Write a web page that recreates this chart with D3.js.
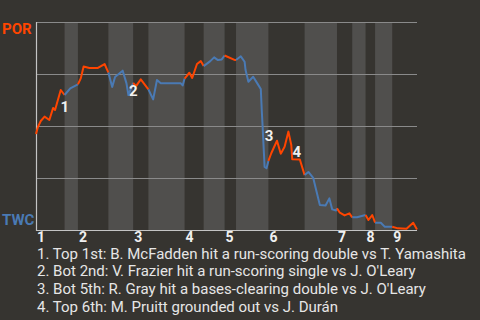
<!DOCTYPE html>
<html>
<head>
<meta charset="utf-8">
<script src="https://cdn.jsdelivr.net/npm/d3@7"></script>
<style>
  html, body { margin: 0; padding: 0; background: #363430; }
  svg { display: block; }
</style>
</head>
<body>
<svg id="chart" width="480" height="320"></svg>
<script>
// ---- data ----
const awayTeam = "POR";
const homeTeam = "TWC";
// half-inning boundaries in play units (top 1st, bot 1st, ..., top 9th)
const halfInningBounds = [0, 15, 22, 38, 51, 59, 78, 88, 99, 105, 122, 141, 158, 166, 173, 178, 187, 200];
const inningLabels = ["1", "2", "3", "4", "5", "6", "7", "8", "9"];
const gridValues = [0.25, 0.5, 0.75, 1];
// play progression and POR win probability
const playX = [0, 1, 2.5, 4.5, 7, 9, 10, 11, 13, 15, 18, 22, 23.5, 25, 28, 32.5, 36, 38, 40, 41.5,
  45.5, 47.5, 48.5, 51, 52.5, 55, 58, 59, 61.5, 63.5, 65.5, 76, 77, 78, 80.5, 82, 84.5, 86.5, 88,
  91.5, 93.5, 95.5, 97.5, 99, 104.5, 105, 107.5, 109.5, 110, 111.5, 114, 116.5, 118, 118.5, 119,
  120, 121, 122, 123.5, 126.5, 128.5, 130.5, 132.5, 134, 134.5, 138.5, 141, 143, 145.5, 149, 152,
  154, 155.5, 157.5, 158, 159.5, 162, 164.5, 166, 168.5, 171, 173, 174.5, 176.5, 178, 181, 183,
  187, 190, 194.5, 198, 200];
const porWinProb = [0.462, 0.495, 0.524, 0.545, 0.529, 0.587, 0.577, 0.609, 0.673, 0.649, 0.681, 0.70,
  0.729, 0.786, 0.779, 0.779, 0.798, 0.757, 0.688, 0.736, 0.766, 0.705, 0.649, 0.707, 0.692, 0.724,
  0.688, 0.676, 0.628, 0.721, 0.705, 0.705, 0.695, 0.728, 0.756, 0.731, 0.798, 0.812, 0.788, 0.812,
  0.830, 0.817, 0.82, 0.839, 0.817, 0.817, 0.835, 0.809, 0.769, 0.713, 0.737, 0.70, 0.678, 0.577,
  0.49, 0.303, 0.297, 0.332, 0.369, 0.429, 0.367, 0.40, 0.473, 0.409, 0.340, 0.339, 0.264, 0.279,
  0.251, 0.12, 0.118, 0.152, 0.099, 0.094, 0.104, 0.083, 0.07, 0.08, 0.061, 0.061, 0.067, 0.072,
  0.048, 0.072, 0.035, 0.035, 0.016, 0.016, 0.008, 0.006, 0.035, 0.002];
const eventPlays = [13, 48.5, 120, 134.5];
const eventTexts = [
  "1. Top 1st: B. McFadden hit a run-scoring double vs T. Yamashita",
  "2. Bot 2nd: V. Frazier hit a run-scoring single vs J. O'Leary",
  "3. Bot 5th: R. Gray hit a bases-clearing double vs J. O'Leary",
  "4. Top 6th: M. Pruitt grounded out vs J. Durán"
];

// ---- layout / style ----
const margin = { left: 36, right: 63, top: 22, bottom: 90 };
const W = 480, H = 320;
const awayColor = "#ff4500", homeColor = "#4a7ab4";
const labelOffsets = [[4, 22], [5, 1], [4.5, -26], [4.5, -2]];

const svg = d3.select("#chart");
svg.append("rect").attr("width", W).attr("height", H).attr("fill", "#363430");

const x = d3.scaleLinear().domain([0, 200]).range([margin.left, W - margin.right]);
const y = d3.scaleLinear().domain([0, 1]).range([H - margin.bottom, margin.top]);

const points = playX.map((px, i) => ({ x: px, p: porWinProb[i] }));

// half-inning bands
const halves = d3.range(halfInningBounds.length - 1).map(i => ({
  i, x0: halfInningBounds[i], x1: halfInningBounds[i + 1]
}));
svg.append("g").selectAll("rect").data(halves.filter(h => h.i % 2 === 1)).join("rect")
  .attr("x", d => x(d.x0)).attr("width", d => x(d.x1) - x(d.x0))
  .attr("y", y(1)).attr("height", y(0) - y(1))
  .attr("fill", "#504f4d");

// gridlines
svg.append("g").selectAll("line").data(gridValues).join("line")
  .attr("x1", x(0)).attr("x2", x(200))
  .attr("y1", d => Math.round(y(d)) + 0.5).attr("y2", d => Math.round(y(d)) + 0.5)
  .attr("stroke", "#8a8a8a").attr("stroke-width", 1);

// axes lines
svg.append("line").attr("x1", x(0) + 0.5).attr("x2", x(0) + 0.5)
  .attr("y1", y(1)).attr("y2", y(0) + 1)
  .attr("stroke", "#c4c4c4").attr("stroke-width", 1.2);
svg.append("line").attr("x1", x(0)).attr("x2", x(200))
  .attr("y1", y(0) + 0.5).attr("y2", y(0) + 0.5)
  .attr("stroke", "#c4c4c4").attr("stroke-width", 1.2);

// win probability line, coloured per half inning
const line = d3.line().x(d => x(d.x)).y(d => y(d.p));
svg.append("g").selectAll("path").data(halves).join("path")
  .attr("d", h => line(points.filter(pt => pt.x >= h.x0 && pt.x <= h.x1)))
  .attr("fill", "none")
  .attr("stroke", h => h.i % 2 === 0 ? awayColor : homeColor)
  .attr("stroke-width", 2)
  .attr("stroke-linejoin", "round");

// team labels
svg.append("text").text(awayTeam).attr("x", 2).attr("y", y(1) + 11.5)
  .attr("fill", awayColor).attr("font-family", "Roboto").attr("font-weight", "bold")
  .attr("font-size", 15);
svg.append("text").text(homeTeam).attr("x", 2).attr("y", y(0) - 5)
  .attr("fill", homeColor).attr("font-family", "Roboto").attr("font-weight", "bold")
  .attr("font-size", 15);

// inning labels
svg.append("g").selectAll("text").data(inningLabels).join("text")
  .text(d => d)
  .attr("x", (d, i) => x(halfInningBounds[i * 2]) + 1)
  .attr("y", y(0) + 12)
  .attr("fill", "#f0f0f0").attr("font-family", "Roboto").attr("font-weight", "bold")
  .attr("font-size", 14);

// event markers
const probAt = px => porWinProb[playX.indexOf(px)];
svg.append("g").selectAll("text").data(eventPlays).join("text")
  .text((d, i) => String(i + 1))
  .attr("x", (d, i) => x(d) + labelOffsets[i][0])
  .attr("y", (d, i) => y(probAt(d)) + labelOffsets[i][1])
  .attr("text-anchor", "middle")
  .attr("fill", "#f0f0f0").attr("font-family", "Roboto").attr("font-weight", "bold")
  .attr("font-size", 15);

// event descriptions
svg.append("g").selectAll("text").data(eventTexts).join("text")
  .text(d => d)
  .attr("x", x(0) + 1)
  .attr("y", (d, i) => y(0) + 28.5 + i * 17.8)
  .attr("fill", "#e6e6e6").attr("font-family", "Roboto")
  .attr("font-size", 15);
</script>
</body>
</html>
